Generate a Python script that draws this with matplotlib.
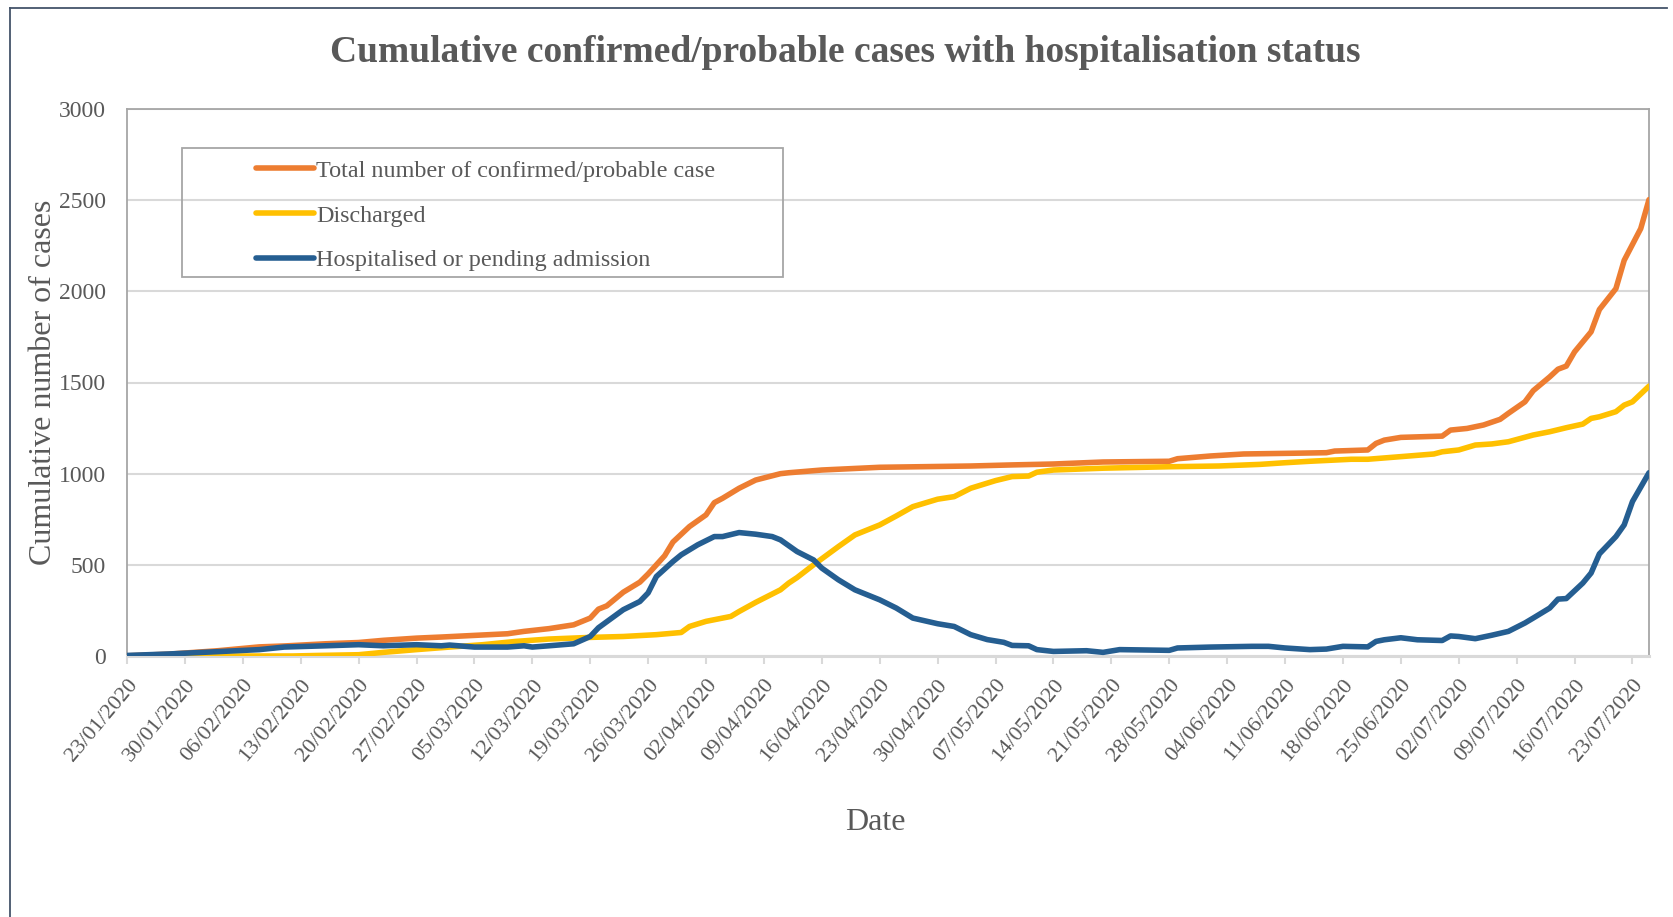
import numpy as np
import pandas as pd
import matplotlib
matplotlib.use('Agg')
import matplotlib.pyplot as plt
from matplotlib.patches import Rectangle
from matplotlib.lines import Line2D

plt.rcParams['font.family'] = ['Liberation Serif', 'DejaVu Serif']

# values; x = days since 23/01/2020
start = pd.Timestamp('2020-01-23')

total_days = [0, 5, 11, 16, 19, 24, 28, 31, 35, 38, 42, 46, 48, 51, 54, 56, 57, 58, 60, 62, 63, 65, 66,
              68, 70, 71, 72, 74, 76, 79, 80, 84, 91, 102, 107, 112, 118, 126, 127, 131, 135, 141, 145,
              146, 150, 151, 152, 154, 159, 160, 162, 164, 166, 167, 169, 170, 172, 173, 174, 175, 177,
              178, 180, 181, 183, 184]
total_vals = [1, 10, 29, 50, 55, 67, 74, 86, 98, 104, 113, 122, 135, 150, 171, 208, 257, 275, 350, 405,
              450, 550, 625, 710, 774, 841, 865, 920, 965, 1000, 1005, 1020, 1035, 1042, 1048, 1053,
              1064, 1068, 1082, 1097, 1108, 1112, 1115, 1124, 1130, 1166, 1184, 1199, 1206, 1239, 1248,
              1267, 1298, 1331, 1394, 1455, 1531, 1573, 1590, 1668, 1778, 1900, 2015, 2170, 2344, 2503]

disch_days = [0, 20, 23, 28, 31, 35, 39, 43, 47, 51, 56, 60, 64, 67, 68, 70, 73, 74, 76, 77, 79, 80, 81,
              83, 86, 88, 91, 93, 95, 98, 100, 102, 105, 107, 109, 110, 112, 118, 126, 132, 137, 140,
              143, 148, 150, 155, 158, 159, 161, 163, 165, 167, 170, 172, 174, 176, 177, 178, 180, 181,
              182, 184]
disch_vals = [0, 0, 3, 7, 20, 35, 49, 62, 80, 93, 102, 107, 117, 129, 162, 190, 217, 244, 294, 317, 363,
              400, 430, 500, 600, 664, 719, 768, 819, 860, 874, 920, 962, 984, 987, 1008, 1020, 1030,
              1038, 1042, 1051, 1060, 1068, 1079, 1079, 1097, 1108, 1120, 1130, 1157, 1163, 1175, 1212,
              1230, 1252, 1272, 1303, 1312, 1340, 1376, 1394, 1480]

hosp_days = [0, 5, 11, 16, 19, 24, 28, 31, 35, 38, 39, 42, 46, 48, 49, 51, 54, 56, 57, 60, 62, 63, 64,
             66, 67, 69, 71, 72, 74, 76, 78, 79, 81, 83, 84, 86, 88, 91, 93, 95, 98, 100, 102, 104, 106,
             107, 109, 110, 112, 116, 118, 120, 126, 127, 131, 136, 138, 140, 143, 145, 147, 150, 151,
             152, 154, 156, 159, 160, 161, 163, 165, 167, 169, 170, 172, 173, 174, 176, 177, 178, 180,
             181, 182, 184]
hosp_vals = [3, 11, 24, 35, 49, 56, 62, 56, 62, 56, 60, 49, 49, 56, 49, 56, 67, 107, 155, 254, 299, 346,
             436, 518, 555, 610, 655, 655, 677, 668, 655, 637, 573, 527, 482, 418, 363, 308, 263, 208,
             177, 162, 117, 90, 75, 58, 56, 35, 25, 29, 20, 35, 31, 44, 49, 53, 53, 44, 35, 38, 53, 50,
             80, 89, 100, 89, 85, 110, 107, 95, 114, 135, 181, 208, 263, 312, 315, 400, 455, 560, 655,
             719, 847, 1005]

labels = ['Total number of confirmed/probable case', 'Discharged', 'Hospitalised or pending admission']
colors = ['#ED7D31', '#FFC000', '#255E91']

W, H = 1673, 917
fig = plt.figure(figsize=(W / 100, H / 100), dpi=100)
fig.patch.set_facecolor('white')

# outer frame of the chart box
fig.add_artist(Line2D([10 / W, 10 / W], [0, 1 - 8 / H], color='#44546A', lw=1.3))
fig.add_artist(Line2D([10 / W, 1667 / W], [1 - 8 / H, 1 - 8 / H], color='#44546A', lw=1.3))

ax = fig.add_axes([127 / W, 1 - 656 / H, (1649 - 127) / W, (656 - 109) / H])

def to_dates(days):
    return start + pd.to_timedelta(np.array(days), unit='D')

series = [(total_days, total_vals), (disch_days, disch_vals), (hosp_days, hosp_vals)]
for (d, v), lab, c in zip(series, labels, colors):
    ax.plot(to_dates(d), v, color=c, lw=4.0, label=lab, solid_capstyle='round', zorder=3)

ax.set_xlim(start, start + pd.Timedelta(days=184))
ax.set_ylim(0, 3000)
ax.set_yticks(np.arange(0, 3001, 500))
ax.grid(axis='y', color='#D9D9D9', lw=1.5, zorder=0)
ax.set_axisbelow(True)

ticks = pd.date_range(start, start + pd.Timedelta(days=182), freq='7D')
ax.set_xticks(ticks)
ax.set_xticklabels([t.strftime('%d/%m/%Y') for t in ticks], rotation=50, ha='right', va='top',
                   rotation_mode='anchor', fontsize=16, color='#595959')
ax.tick_params(axis='x', length=6, width=1.5, color='#D9D9D9', pad=8)
ax.tick_params(axis='y', length=0, pad=15, labelsize=17, labelcolor='#595959')

for s in ['left', 'top', 'right']:
    ax.spines[s].set_color('#A6A6A6')
    ax.spines[s].set_linewidth(1.3)
ax.spines['bottom'].set_color('#D9D9D9')
ax.spines['bottom'].set_linewidth(2.2)

ax.set_ylabel('Cumulative number of cases', fontsize=23, color='#595959', labelpad=1)
fig.text(875 / W, 1 - 823 / H, 'Date', fontsize=23, color='#595959', ha='center', va='center')
fig.text(845 / W, 1 - 53 / H, 'Cumulative confirmed/probable cases with hospitalisation status',
         fontsize=27, fontweight='bold', color='#595959', ha='center', va='center')

# legend box
fig.add_artist(Rectangle((182 / W, 1 - 277 / H), (783 - 182) / W, (277 - 148) / H,
                         transform=fig.transFigure, fill=False, edgecolor='#A6A6A6', lw=1.3))
leg = ax.legend(loc='upper left', bbox_to_anchor=(256 / W, 1 - 160 / H), bbox_transform=fig.transFigure,
                frameon=False, fontsize=17.4, handlelength=2.4, handletextpad=0.1, borderpad=0,
                borderaxespad=0, labelspacing=0.94)
for t in leg.get_texts():
    t.set_color('#595959')

fig.savefig('out.png', dpi=100)
